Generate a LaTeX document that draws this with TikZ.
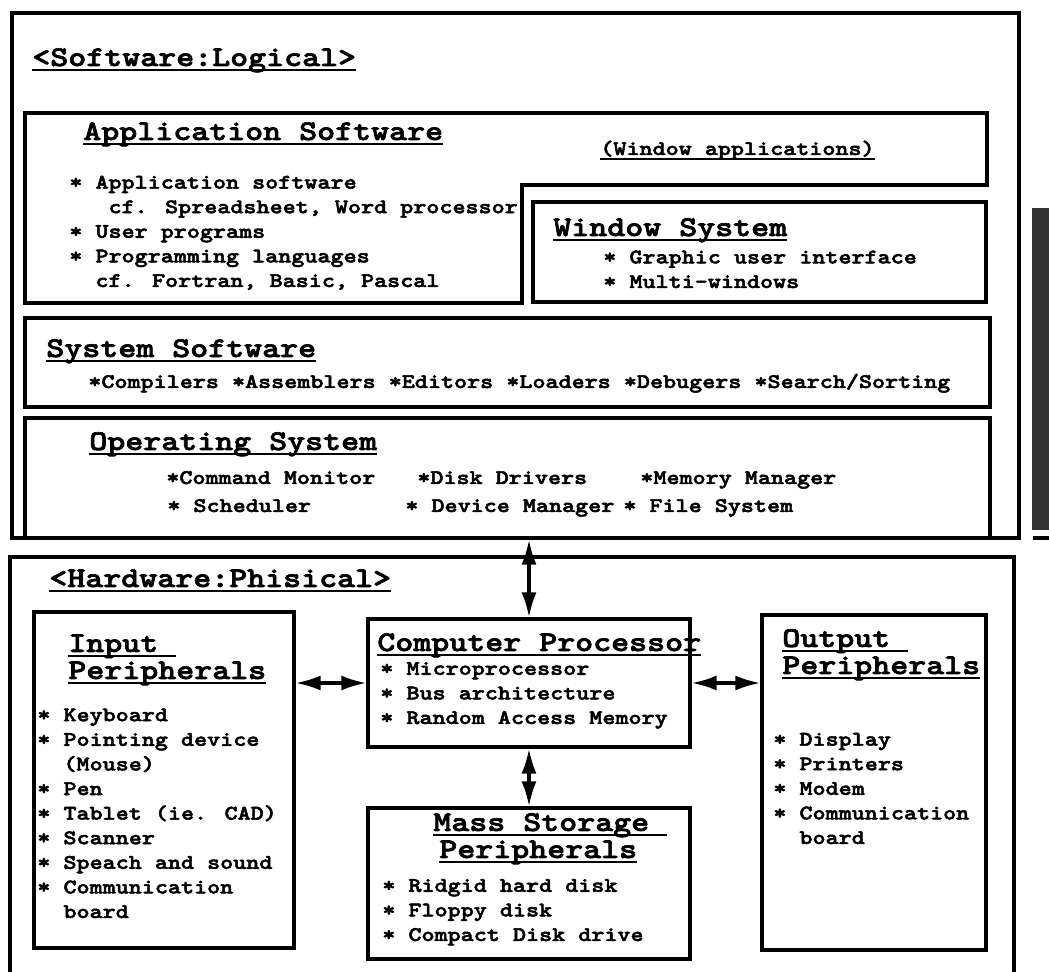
\documentclass[tikz,border=0pt]{standalone}
\usepackage{fontspec}
\newfontfamily\diagfont{lmmonolt10-bold.otf}[FakeStretch=1.2,FakeBold=2.4]
\usetikzlibrary{arrows.meta,fit}

\newsavebox\ulbox
\newcommand\ulin[1]{\sbox\ulbox{#1}\rlap{\rule[-3pt]{\wd\ulbox}{1.3pt}}\usebox\ulbox}
\newcommand\ulthin[1]{\sbox\ulbox{#1}\rlap{\rule[-2.6pt]{\wd\ulbox}{0.9pt}}\usebox\ulbox}
\newcommand\bodyfont{\diagfont\fontsize{11.8}{14}\selectfont}
\newcommand\titlefont{\diagfont\fontsize{16.25}{15.4}\selectfont}

\begin{document}
\begin{tikzpicture}[
  x=0.02cm, y=-0.02cm,
  box/.style={draw, line width=1.8pt, inner sep=0pt},
  title/.style={anchor=base west, inner sep=0pt, font=\titlefont, align=left},
  item/.style={anchor=base west, inner sep=0pt, font=\bodyfont, align=left},
  dbl/.style={{Latex[length=5mm,width=3mm]}-{Latex[length=5mm,width=3mm]}, line width=1.8pt}
]
\useasboundingbox (0,0) rectangle (1049,972);

% software side
\node[box, fit={(12,13) (1019,538)}] (sw) {};
\node[title] (swlbl) at (32,66) {\ulin{<Software:Logical>}};

\draw[line width=1.8pt] (25,113) -- (987,113) -- (987,185) -- (522,185) -- (522,303) -- (25,303) -- cycle;
\node[title] (apptl) at (83,140) {\ulin{Application Software}};
\node[item] (winapp) at (600,155) {\ulthin{(Window applications)}};
\node[item] (applist) at (69,287) {* Application software\\\phantom{***}cf. Spreadsheet, Word processor\\* User programs\\* Programming languages\\\phantom{**}cf. Fortran, Basic, Pascal};

\node[box, fit={(533,202) (986,302)}] (win) {};
\node[title] (wintl) at (553,236) {\ulin{Window System}};
\node[item] (winlist) at (603,288) {* Graphic user interface\\* Multi-windows};

\node[box, fit={(25,318) (990,407)}] (syssw) {};
\node[title] (systl) at (46,357) {\ulin{System Software}};
\node[item] (syslist) at (88,388) {*Compilers *Assemblers *Editors *Loaders *Debugers *Search/Sorting};

\node[box, fit={(25,418) (990,538)}] (os) {};
\node[title] (ostl) at (89,450) {\ulin{Operating System}};
\node[item] (cmdmon) at (166,484) {*Command Monitor};
\node[item] (diskdrv) at (417,484) {*Disk Drivers};
\node[item] (memmgr) at (640,484) {*Memory Manager};
\node[item] (sched) at (167,512) {* Scheduler};
\node[item] (devmgr) at (405,512) {* Device Manager};
\node[item] (filesys) at (623,512) {* File System};

% scan strip on the right
\fill[black!80] (1032,208) rectangle (1049,530);
\draw[line width=1.8pt] (1033,538) -- (1049,538);

% hardware side
\draw[line width=1.8pt] (10,972) -- (10,557) -- (1014,557) -- (1014,972);
\node[title] (hwlbl) at (49,587) {\ulin{<Hardware:Phisical>}};

\node[box, fit={(34,612) (294,948)}] (inp) {};
\node[title] (inptl) at (68,679) {\ulin{Input\ }\\\ulin{Peripherals}};
\node[item] (inplist) at (37,918) {* Keyboard\\* Pointing device\\\phantom{**}(Mouse)\\* Pen\\* Tablet (ie. CAD)\\* Scanner\\* Speach and sound\\* Communication\\\phantom{**}board};

\node[box, fit={(368,619) (690,747)}] (cpu) {};
\node[title] (cputl) at (377,651) {\ulin{Computer Processor}};
\node[item] (cpulist) at (380,724) {* Microprocessor\\* Bus architecture\\* Random Access Memory};

\node[box, fit={(762,615) (986,950)}] (outp) {};
\node[title] (outtl) at (782,674) {\ulin{Output\ }\\\ulin{Peripherals}};
\node[item] (outlist) at (773,844) {* Display\\* Printers\\* Modem\\* Communication\\\phantom{**}board};

\node[box, fit={(368,808) (690,959)}] (mass) {};
\node[title] (masstl) at (433,858) {\ulin{Mass Storage\ }\\\hspace*{3.4pt}\ulin{Peripherals}};
\node[item] (masslist) at (382,941) {* Ridgid hard disk\\* Floppy disk\\* Compact Disk drive};

\draw[dbl] (os.south -| cpu.north) -- (cpu.north);
\draw[dbl] (inp.east |- cpu.west) -- (cpu.west);
\draw[dbl] (cpu.east) -- (outp.west |- cpu.east);
\draw[dbl] (cpu.south) -- (mass.north);
\end{tikzpicture}
\end{document}
